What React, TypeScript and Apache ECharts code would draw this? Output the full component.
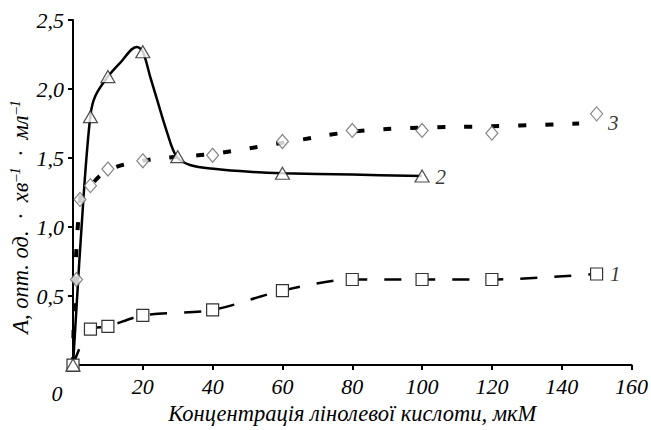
import React, { useEffect, useRef } from "react";
import * as echarts from "echarts";

const xTicks = [0, 20, 40, 60, 80, 100, 120, 140, 160];
const yTicks = [0.5, 1.0, 1.5, 2.0, 2.5];

const series1: [number, number][] = [
  [0, 0], [5, 0.26], [10, 0.28], [20, 0.36], [40, 0.4], [60, 0.54],
  [80, 0.62], [100, 0.62], [120, 0.62], [150, 0.66],
];
const series2: [number, number][] = [
  [0, 0], [5, 1.8], [10, 2.09], [20, 2.27], [30, 1.51], [60, 1.39], [100, 1.37],
];
// curve 2 as drawn in the figure
const curve2: [number, number][] = [
  [0, 0], [3, 1.21], [5, 1.81], [6.4, 1.95], [10, 2.09], [13.5, 2.19], [18.3, 2.305],
  [20, 2.27], [22.1, 2.09], [24, 1.93], [26.9, 1.69], [29.7, 1.51], [33.5, 1.45],
  [41, 1.42], [50.6, 1.4], [60, 1.39], [80, 1.38], [100, 1.37],
];
const series3: [number, number][] = [
  [1, 0.62], [2, 1.2], [5, 1.3], [10, 1.42], [20, 1.48], [40, 1.52],
  [60, 1.62], [80, 1.7], [100, 1.7], [120, 1.68], [150, 1.82],
];
const trend3: [number, number][] = [
  [0, 0], [2, 1.2], [5, 1.3], [10, 1.41], [20, 1.48], [30, 1.51], [40, 1.53],
  [60, 1.61], [80, 1.69], [100, 1.72], [120, 1.73], [145, 1.75],
];
const curveLabels = ["1", "2", "3"];

const FONT = "Liberation Serif";

export default function App() {
  const ref = useRef<HTMLDivElement>(null);
  useEffect(() => {
    if (!ref.current) return;
    const chart = echarts.init(ref.current, null, { renderer: "svg" });
    const last1 = series1[series1.length - 1];
    const last2 = series2[series2.length - 1];
    const last3 = series3[series3.length - 1];
    const endLabel = (text: string, dx: number, dy: number) => ({
      show: true,
      formatter: text,
      position: "right",
      distance: dx,
      offset: [0, dy],
      fontFamily: FONT,
      fontStyle: "italic",
      fontSize: 21,
      color: "#000",
    });
    const labelSeries = (pt: [number, number], text: string, dx: number, dy: number) => ({
      type: "scatter",
      data: [pt],
      symbol: "circle",
      symbolSize: 1,
      itemStyle: { color: "rgba(0,0,0,0)" },
      z: 6,
      silent: true,
      label: endLabel(text, dx, dy),
    });
    chart.setOption({
      animation: false,
      backgroundColor: "#fff",
      grid: { left: 73, right: 19, top: 20, bottom: 60, containLabel: false },
      xAxis: {
        type: "value",
        min: 0,
        max: 160,
        interval: 20,
        name: "Концентрація лінолевої кислоти, мкМ",
        nameLocation: "middle",
        nameGap: 30,
        nameTextStyle: { fontFamily: FONT, fontStyle: "italic", fontSize: 22.5, color: "#000" },
        axisLine: { show: true, lineStyle: { color: "#000", width: 2 } },
        axisTick: { show: true, length: 5, lineStyle: { color: "#000", width: 2 } },
        axisLabel: {
          fontFamily: FONT,
          fontStyle: "italic",
          fontSize: 22,
          color: "#000",
          margin: 10,
          formatter: (v: number) => (v === 0 ? "" : String(v)),
        },
        splitLine: { show: false },
      },
      yAxis: {
        type: "value",
        min: 0,
        max: 2.5,
        interval: 0.5,
        axisLine: { show: true, lineStyle: { color: "#000", width: 2 } },
        axisTick: { show: true, length: 5, lineStyle: { color: "#000", width: 2 } },
        axisLabel: {
          fontFamily: FONT,
          fontStyle: "italic",
          fontSize: 22,
          color: "#000",
          margin: 9,
          formatter: (v: number) =>
            yTicks.includes(Math.round(v * 10) / 10) ? v.toFixed(1).replace(".", ",") : "",
        },
        splitLine: { show: false },
      },
      graphic: [
        {
          type: "text",
          x: 57,
          y: 393,
          style: {
            text: String(xTicks[0]),
            font: `italic 22px ${FONT}`,
            fill: "#000",
            textAlign: "center",
            textVerticalAlign: "middle",
          },
        },
        {
          type: "text",
          x: 20,
          y: 217,
          rotation: Math.PI / 2,
          style: {
            text: "{n|A, опт. од.  ·  хв}{s|–1}{n|  ·  мл}{s|–1}",
            fill: "#000",
            textAlign: "center",
            textVerticalAlign: "middle",
            rich: {
              n: { fontFamily: FONT, fontStyle: "italic", fontSize: 22.5, lineHeight: 24, fill: "#000", verticalAlign: "bottom" },
              s: { fontFamily: FONT, fontStyle: "italic", fontSize: 14, lineHeight: 24, fill: "#000", verticalAlign: "top", padding: [0, 0, 0, 1] },
            },
          },
        },
      ],
      series: [
        {
          type: "line",
          data: trend3,
          smooth: 0.4,
          symbol: "none",
          z: 1,
          lineStyle: { color: "#000", width: 4, type: [8, 19] },
        },
        {
          type: "line",
          data: series1,
          smooth: 0.3,
          symbol: "rect",
          symbolSize: 12,
          z: 3,
          lineStyle: { color: "#000", width: 2.5, type: [17, 17] },
          itemStyle: { color: "#fff", borderColor: "#333", borderWidth: 1.2 },
        },
        {
          type: "line",
          data: curve2,
          smooth: 0.35,
          symbol: "none",
          z: 2,
          lineStyle: { color: "#000", width: 2.5 },
        },
        {
          type: "scatter",
          data: series2,
          symbol: "triangle",
          symbolSize: [14, 12],
          z: 4,
          itemStyle: { color: "#fff", borderColor: "#222", borderWidth: 1.2 },
        },
        {
          type: "scatter",
          data: series3,
          symbol: "diamond",
          symbolSize: [12, 14],
          z: 5,
          itemStyle: { color: "#fff", borderColor: "#666", borderWidth: 1.2 },
        },
        labelSeries(last1, curveLabels[0], 13, 0),
        labelSeries(last2, curveLabels[1], 13, 1),
        labelSeries(last3, curveLabels[2], 11, 9),
      ],
    });
    return () => chart.dispose();
  }, []);
  return (
    <div
      ref={ref}
      style={{ position: "fixed", left: 0, top: 0, width: 651, height: 430, background: "#fff" }}
    />
  );
}
